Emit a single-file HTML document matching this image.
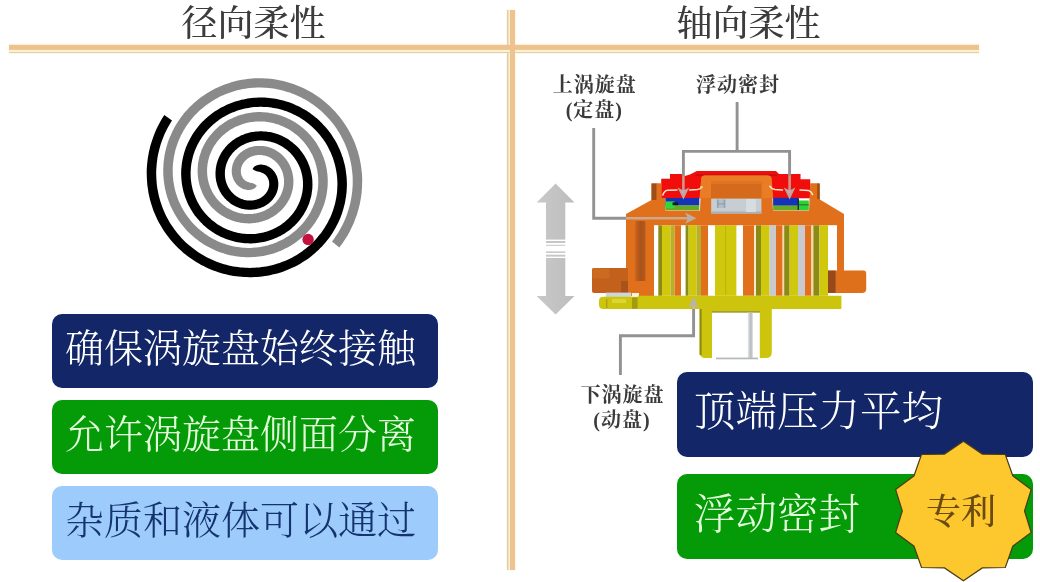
<!DOCTYPE html>
<html lang="zh-CN">
<head>
<meta charset="utf-8">
<title>径向柔性 轴向柔性</title>
<style>
html,body{margin:0;padding:0;background:#fff;}
body{width:1040px;height:582px;overflow:hidden;position:relative;font-family:"Liberation Serif","Noto Serif CJK SC",serif;}
#stage{position:absolute;left:0;top:0;width:1040px;height:582px;overflow:hidden;will-change:transform;}
#g{position:absolute;left:0;top:0;}
.t{position:absolute;white-space:nowrap;line-height:1;}
.title{font-size:36px;color:#3c3c3c;font-weight:500;top:5.5px;}
.lab{font-size:20px;letter-spacing:1px;padding-left:1px;font-weight:700;color:#3a3a3a;text-align:center;line-height:25px;}
.box{position:absolute;border-radius:10px;box-sizing:border-box;}
.box span{position:absolute;white-space:nowrap;line-height:1;font-weight:300;}
.l{left:52px;width:386px;height:74px;}
.l span{left:13px;top:14.5px;font-size:39px;}
.r{left:677px;width:356px;}
.r span{left:17px;font-size:41.5px;}
.navy{background:#122668;color:#fff;}
.green{background:#059a07;color:#e4ffdc;}
.sky{background:#9ccbfc;color:#15336f;}
</style>
</head>
<body>
<div id="stage">
<svg id="g" width="1040" height="582" viewBox="0 0 1040 582">
<defs>
<linearGradient id="ar" x1="0" x2="1" y1="0" y2="0"><stop offset="0" stop-color="#c9c9c9"/><stop offset="1" stop-color="#bdbdbd"/></linearGradient>
<linearGradient id="wallsh" x1="0" x2="1" y1="0" y2="0"><stop offset="0" stop-color="#c9641c"/><stop offset="0.55" stop-color="#a9521a"/><stop offset="1" stop-color="#b85a1a"/></linearGradient>
<linearGradient id="rod" x1="0" x2="1" y1="0" y2="0"><stop offset="0" stop-color="#e6e8ea"/><stop offset="0.6" stop-color="#b6babe"/><stop offset="1" stop-color="#d6d8da"/></linearGradient>
<filter id="soft" x="-5%" y="-5%" width="110%" height="110%"><feGaussianBlur stdDeviation="0.45"/></filter>
</defs>
<!-- rules -->
<rect x="506" y="9.5" width="10" height="561" fill="#fff8e2"/>
<rect x="8.5" y="43.6" width="971" height="10.4" fill="#fffbe8"/>
<rect x="508.4" y="10" width="1.8" height="560" fill="#fff1cb"/>
<rect x="507" y="10" width="1.5" height="560" fill="#d8d2b2"/>
<rect x="9" y="49.8" width="970" height="2.4" fill="#fff1cb"/>
<rect x="9" y="52" width="970" height="1.1" fill="#d8d4b5"/>
<rect x="510" y="10" width="5" height="560" fill="#efc391"/>
<rect x="9" y="44.8" width="970" height="5.1" fill="#eec18e"/>
<!-- spiral -->
<path d="M339.3 247.6 L341.0 245.3 L342.7 242.9 L344.3 240.6 L345.9 238.1 L347.4 235.7 L348.8 233.2 L350.1 230.7 L351.4 228.1 L352.6 225.5 L353.8 222.9 L354.8 220.3 L355.8 217.6 L356.8 215.0 L357.6 212.3 L358.4 209.5 L359.1 206.8 L359.8 204.1 L360.3 201.3 L360.8 198.5 L361.2 195.8 L361.6 193.0 L361.8 190.2 L362.0 187.4 L362.1 184.6 L362.2 181.8 L362.2 179.0 L362.1 176.3 L361.9 173.5 L361.6 170.7 L361.3 168.0 L360.9 165.3 L360.4 162.5 L359.9 159.8 L359.3 157.1 L358.6 154.5 L357.9 151.8 L357.0 149.2 L356.1 146.6 L355.2 144.0 L354.2 141.5 L353.1 139.0 L351.9 136.5 L350.7 134.1 L349.4 131.7 L348.1 129.3 L346.7 127.0 L345.2 124.7 L343.7 122.4 L342.1 120.2 L340.5 118.0 L338.8 115.9 L337.1 113.9 L335.3 111.8 L333.5 109.9 L331.6 107.9 L329.6 106.1 L327.6 104.2 L325.6 102.5 L323.5 100.8 L321.4 99.1 L319.3 97.5 L317.1 96.0 L314.8 94.5 L312.6 93.1 L310.3 91.7 L308.0 90.4 L305.6 89.2 L303.2 88.0 L300.8 86.9 L298.3 85.9 L295.9 84.9 L293.4 84.0 L290.9 83.2 L288.4 82.4 L285.8 81.7 L283.3 81.0 L280.7 80.4 L278.1 79.9 L275.5 79.5 L272.9 79.1 L270.3 78.8 L267.7 78.5 L265.1 78.4 L262.5 78.3 L259.9 78.2 L257.3 78.2 L254.7 78.3 L252.1 78.5 L249.5 78.7 L247.0 79.0 L244.4 79.4 L241.9 79.8 L239.3 80.3 L236.8 80.8 L234.3 81.4 L231.9 82.1 L229.4 82.9 L227.0 83.7 L224.6 84.5 L222.2 85.4 L219.9 86.4 L217.6 87.5 L215.3 88.6 L213.0 89.7 L210.8 90.9 L208.7 92.2 L206.5 93.5 L204.4 94.9 L202.4 96.3 L200.3 97.8 L198.4 99.3 L196.4 100.9 L194.5 102.5 L192.7 104.2 L190.9 105.9 L189.2 107.6 L187.5 109.4 L185.8 111.2 L184.2 113.1 L182.7 115.0 L181.2 117.0 L179.8 119.0 L178.4 121.0 L177.1 123.0 L175.8 125.1 L174.6 127.2 L173.5 129.3 L172.4 131.5 L171.4 133.7 L170.4 135.9 L169.5 138.1 L168.6 140.3 L167.8 142.6 L167.1 144.9 L166.4 147.2 L165.8 149.5 L165.3 151.8 L164.8 154.1 L164.4 156.4 L164.1 158.8 L163.8 161.1 L163.5 163.5 L163.4 165.8 L163.3 168.2 L163.2 170.5 L163.3 172.8 L163.3 175.2 L163.5 177.5 L163.7 179.8 L164.0 182.1 L164.3 184.4 L164.7 186.7 L165.1 189.0 L165.7 191.3 L166.2 193.5 L166.8 195.7 L167.5 197.9 L168.3 200.1 L169.1 202.3 L169.9 204.4 L170.8 206.5 L171.8 208.6 L172.8 210.6 L173.9 212.6 L175.0 214.6 L176.2 216.6 L177.4 218.5 L178.7 220.4 L180.0 222.2 L181.4 224.0 L182.8 225.8 L184.2 227.5 L185.7 229.2 L187.2 230.9 L188.8 232.5 L190.4 234.0 L192.1 235.6 L193.8 237.0 L195.5 238.5 L197.3 239.8 L199.1 241.2 L200.9 242.5 L202.8 243.7 L204.7 244.9 L206.6 246.0 L208.5 247.1 L210.5 248.1 L212.5 249.1 L214.5 250.0 L216.5 250.9 L218.6 251.7 L220.6 252.4 L222.7 253.1 L224.8 253.8 L226.9 254.4 L229.0 254.9 L231.2 255.4 L233.3 255.8 L235.5 256.2 L237.6 256.5 L239.8 256.8 L241.9 257.0 L244.1 257.1 L246.3 257.2 L248.4 257.2 L250.6 257.2 L252.7 257.1 L254.9 257.0 L257.0 256.8 L259.1 256.6 L261.2 256.3 L263.3 255.9 L265.4 255.5 L267.5 255.1 L269.6 254.5 L271.6 254.0 L273.6 253.4 L275.6 252.7 L277.6 252.0 L279.5 251.2 L281.5 250.4 L283.4 249.6 L285.2 248.6 L287.1 247.7 L288.9 246.7 L290.7 245.7 L292.5 244.6 L294.2 243.4 L295.9 242.3 L297.5 241.0 L299.2 239.8 L300.7 238.5 L302.3 237.2 L303.8 235.8 L305.3 234.4 L306.7 233.0 L308.1 231.5 L309.4 230.0 L310.7 228.4 L312.0 226.9 L313.2 225.3 L314.4 223.7 L315.5 222.0 L316.6 220.3 L317.6 218.6 L318.6 216.9 L319.5 215.2 L320.4 213.4 L321.2 211.6 L322.0 209.8 L322.7 208.0 L323.4 206.2 L324.1 204.3 L324.7 202.5 L325.2 200.6 L325.7 198.7 L326.1 196.8 L326.5 194.9 L326.8 193.0 L327.1 191.1 L327.3 189.2 L327.5 187.3 L327.7 185.4 L327.7 183.5 L327.8 181.6 L327.7 179.7 L327.7 177.8 L327.5 175.9 L327.4 174.0 L327.1 172.2 L326.9 170.3 L326.5 168.4 L326.2 166.6 L325.7 164.8 L325.3 163.0 L324.8 161.2 L324.2 159.4 L323.6 157.6 L322.9 155.9 L322.2 154.2 L321.5 152.5 L320.7 150.8 L319.9 149.2 L319.0 147.5 L318.1 145.9 L317.2 144.4 L316.2 142.8 L315.1 141.3 L314.1 139.8 L313.0 138.4 L311.8 137.0 L310.7 135.6 L309.4 134.2 L308.2 132.9 L306.9 131.6 L305.6 130.4 L304.3 129.2 L302.9 128.0 L301.5 126.9 L300.1 125.8 L298.7 124.7 L297.2 123.7 L295.7 122.7 L294.2 121.8 L292.7 120.9 L291.1 120.0 L289.5 119.2 L287.9 118.4 L286.3 117.7 L284.7 117.0 L283.1 116.4 L281.4 115.8 L279.7 115.2 L278.1 114.7 L276.4 114.3 L274.7 113.9 L273.0 113.5 L271.3 113.2 L269.6 112.9 L267.9 112.6 L266.2 112.4 L264.4 112.3 L262.7 112.2 L261.0 112.1 L259.3 112.1 L257.6 112.1 L255.9 112.2 L254.2 112.3 L252.5 112.5 L250.8 112.7 L249.2 112.9 L247.5 113.2 L245.9 113.6 L244.2 113.9 L242.6 114.4 L241.0 114.8 L239.4 115.3 L237.8 115.8 L236.3 116.4 L234.8 117.0 L233.2 117.7 L231.7 118.4 L230.3 119.1 L228.8 119.8 L227.4 120.6 L226.0 121.5 L224.6 122.3 L223.3 123.2 L222.0 124.2 L220.7 125.1 L219.4 126.1 L218.2 127.1 L217.0 128.2 L215.8 129.3 L214.7 130.4 L213.6 131.5 L212.5 132.7 L211.5 133.9 L210.5 135.1 L209.5 136.3 L208.6 137.5 L207.7 138.8 L206.8 140.1 L206.0 141.4 L205.2 142.8 L204.5 144.1 L203.7 145.5 L203.1 146.8 L202.4 148.2 L201.8 149.6 L201.3 151.0 L200.8 152.5 L200.3 153.9 L199.8 155.3 L199.4 156.8 L199.1 158.2 L198.8 159.7 L198.5 161.2 L198.2 162.6 L198.0 164.1 L197.9 165.6 L197.8 167.0 L197.7 168.5 L197.6 170.0 L197.6 171.5 L197.7 172.9 L197.7 174.4 L197.9 175.8 L198.0 177.3 L198.2 178.7 L198.4 180.1 L198.7 181.5 L199.0 182.9 L199.3 184.3 L199.7 185.7 L200.1 187.1 L200.6 188.4 L201.1 189.8 L201.6 191.1 L202.1 192.4 L202.7 193.7 L203.3 194.9 L204.0 196.2 L204.6 197.4 L205.3 198.6 L206.1 199.8 L206.9 201.0 L207.6 202.1 L208.5 203.2 L209.3 204.3 L210.2 205.4 L211.1 206.4 L212.0 207.4 L213.0 208.4 L214.0 209.3 L215.0 210.3 L216.0 211.2 L217.0 212.0 L218.1 212.9 L219.2 213.7 L220.3 214.5 L221.4 215.2 L222.5 215.9 L223.7 216.6 L224.8 217.3 L226.0 217.9 L227.2 218.5 L228.4 219.0 L229.6 219.5 L230.8 220.0 L232.1 220.5 L233.3 220.9 L234.5 221.3 L235.8 221.7 L237.1 222.0 L238.3 222.3 L239.6 222.5 L240.9 222.7 L242.1 222.9 L243.4 223.1 L244.7 223.2 L246.0 223.3 L247.2 223.3 L248.5 223.4 L249.8 223.4 L251.0 223.3 L252.3 223.2 L253.5 223.1 L254.8 223.0 L256.0 222.8 L257.2 222.6 L258.4 222.4 L259.6 222.1 L260.8 221.8 L262.0 221.5 L263.2 221.1 L264.3 220.7 L265.5 220.3 L266.6 219.9 L267.7 219.4 L268.8 218.9 L269.9 218.4 L270.9 217.8 L272.0 217.3 L273.0 216.7 L274.0 216.0 L275.0 215.4 L275.9 214.7 L276.9 214.0 L277.8 213.3 L278.7 212.6 L279.6 211.8 L280.4 211.0 L281.2 210.2 L282.0 209.4 L282.8 208.6 L283.6 207.7 L284.3 206.8 L285.0 206.0 L285.7 205.1 L286.3 204.1 L286.9 203.2 L287.5 202.3 L288.1 201.3 L288.6 200.4 L289.1 199.4 L289.6 198.4 L290.1 197.4 L290.5 196.4 L290.9 195.4 L291.2 194.4 L291.6 193.4 L291.9 192.3 L292.2 191.3 L292.4 190.3 L292.7 189.2 L292.9 188.2 L293.0 187.2 L293.2 186.1 L293.3 185.1 L293.3 184.0 L293.4 183.0 L293.4 182.0 L293.4 181.0 L293.4 179.9 L293.3 178.9 L293.3 177.9 L293.1 176.9 L293.0 175.9 L292.8 174.9 L292.6 173.9 L292.4 172.9 L292.2 172.0 L291.9 171.0 L291.6 170.0 L291.3 169.1 L291.0 168.2 L290.6 167.3 L290.2 166.4 L289.8 165.5 L289.4 164.6 L288.9 163.8 L288.5 162.9 L288.0 162.1 L287.4 161.3 L286.9 160.5 L286.4 159.7 L285.8 159.0 L285.2 158.2 L284.6 157.5 L284.0 156.8 L283.3 156.2 L282.7 155.5 L282.0 154.8 L281.3 154.2 L280.6 153.6 L279.9 153.1 L279.2 152.5 L278.4 152.0 L277.7 151.4 L276.9 151.0 L276.2 150.5 L275.4 150.0 L274.6 149.6 L273.8 149.2 L273.0 148.8 L272.2 148.5 L271.4 148.1 L270.5 147.8 L269.7 147.5 L268.9 147.3 L268.1 147.0 L267.2 146.8 L266.4 146.6 L265.6 146.4 L264.7 146.3 L263.9 146.2 L263.0 146.1 L262.2 146.0 L261.4 145.9 L260.5 145.9 L259.7 145.9 L258.9 145.9 L258.0 145.9 L257.2 145.9 L256.4 146.0 L255.6 146.1 L254.8 146.2 L254.0 146.3 L253.2 146.5 L252.4 146.7 L251.7 146.9 L250.9 147.1 L250.2 147.3 L249.4 147.6 L248.7 147.8 L248.0 148.1 L247.3 148.4 L246.6 148.7 L245.9 149.1 L245.2 149.4 L244.6 149.8 L243.9 150.2 L243.3 150.6 L242.7 151.0 L242.1 151.4 L241.5 151.9 L240.9 152.3 L240.3 152.8 L239.8 153.3 L239.3 153.8 L238.8 154.3 L238.3 154.8 L237.8 155.3 L237.4 155.9 L236.9 156.4 L236.5 157.0 L236.1 157.5 L235.7 158.1 L235.3 158.7 L235.0 159.2 L234.6 159.8 L234.3 160.4 L234.0 161.0 L233.8 161.6 L233.5 162.2 L233.3 162.9 L233.0 163.5 L232.8 164.1 L232.6 164.7 L232.5 165.3 L232.3 165.9 L232.2 166.6 L232.1 167.2 L232.0 167.8 L231.9 168.4 L231.8 169.0 L231.8 169.7 L231.8 170.3 L231.7 170.9 L231.7 171.5 L231.8 172.1 L231.8 172.7 L231.9 173.3 L231.9 173.9 L232.0 174.4 L232.1 175.0 L232.3 175.6 L232.4 176.1 L232.5 176.7 L232.7 177.3 L232.9 177.8 L233.1 178.3 L233.3 178.8 L233.5 179.4 L233.7 179.9 L234.0 180.4 L234.2 180.8 L234.5 181.3 L234.8 181.8 L235.1 182.2 L235.4 182.7 L235.7 183.1 L236.0 183.5 L236.3 183.9 L236.7 184.3 L237.0 184.7 L237.4 185.1 L237.7 185.4 L238.1 185.8 L238.5 186.1 L238.9 186.4 L239.3 186.7 L239.7 187.0 L240.1 187.3 L240.5 187.6 L240.9 187.8 L241.3 188.0 L241.7 188.3 L242.1 188.5 L242.6 188.7 L243.0 188.9 L243.4 189.0 L243.9 189.2 L244.3 189.3 L244.8 189.4 L245.2 189.5 L245.6 189.6 L246.1 189.7 L246.5 189.8 L246.9 189.9 L247.4 189.9 L247.8 189.9 L248.2 190.0 L248.6 190.0 L249.0 190.0 L249.5 189.9 L249.9 189.9 L250.3 189.9 L250.7 189.8 L251.1 189.7 L251.5 189.6 L251.9 189.5 L252.2 189.4 L252.6 189.2 L253.0 189.1 L253.3 188.9 L253.7 188.8 L254.0 188.6 L254.3 188.4 L254.6 188.2 L254.9 188.0 L255.2 187.7 L255.5 187.5 L255.8 187.2 L256.0 186.9 L256.2 186.6 L256.4 186.2 L256.6 185.8 L256.8 185.4 L256.8 185.4 L256.5 185.2 L256.2 185.1 L255.9 184.9 L255.6 184.7 L255.4 184.6 L255.1 184.4 L254.9 184.2 L254.7 184.0 L254.4 183.9 L254.2 183.9 L254.0 183.8 L253.8 183.7 L253.6 183.7 L253.5 183.6 L253.3 183.5 L253.1 183.4 L252.9 183.3 L252.7 183.2 L252.6 183.1 L252.4 183.0 L252.2 183.0 L252.0 183.0 L251.8 183.0 L251.6 183.0 L251.4 182.9 L251.2 182.9 L251.0 182.9 L250.8 182.9 L250.6 182.8 L250.4 182.8 L250.2 182.8 L250.0 182.7 L249.8 182.6 L249.6 182.6 L249.4 182.5 L249.2 182.4 L249.0 182.3 L248.8 182.3 L248.6 182.2 L248.4 182.1 L248.2 182.0 L247.9 181.9 L247.7 181.8 L247.4 181.8 L247.2 181.7 L246.9 181.6 L246.7 181.4 L246.5 181.3 L246.2 181.2 L246.0 181.1 L245.7 180.9 L245.5 180.8 L245.3 180.6 L245.0 180.4 L244.8 180.2 L244.6 180.0 L244.4 179.8 L244.2 179.6 L243.9 179.4 L243.7 179.2 L243.5 179.0 L243.3 178.7 L243.2 178.5 L243.0 178.2 L242.8 177.9 L242.6 177.7 L242.5 177.4 L242.3 177.1 L242.2 176.8 L242.0 176.5 L241.9 176.2 L241.7 175.9 L241.6 175.5 L241.5 175.2 L241.4 174.9 L241.3 174.5 L241.2 174.2 L241.1 173.8 L241.0 173.4 L241.0 173.1 L240.9 172.7 L240.9 172.3 L240.9 171.9 L240.8 171.6 L240.8 171.2 L240.8 170.8 L240.9 170.4 L240.9 170.0 L240.9 169.6 L241.0 169.2 L241.0 168.8 L241.1 168.4 L241.2 168.0 L241.3 167.5 L241.4 167.1 L241.6 166.7 L241.7 166.3 L241.9 165.9 L242.0 165.5 L242.2 165.1 L242.4 164.7 L242.6 164.3 L242.9 163.9 L243.1 163.5 L243.3 163.1 L243.6 162.7 L243.9 162.4 L244.2 162.0 L244.5 161.6 L244.8 161.3 L245.1 160.9 L245.4 160.6 L245.8 160.2 L246.2 159.9 L246.5 159.6 L246.9 159.2 L247.3 158.9 L247.7 158.6 L248.2 158.3 L248.6 158.0 L249.0 157.8 L249.5 157.5 L250.0 157.3 L250.4 157.0 L250.9 156.8 L251.4 156.6 L251.9 156.4 L252.4 156.2 L253.0 156.0 L253.5 155.9 L254.0 155.7 L254.6 155.6 L255.1 155.4 L255.7 155.3 L256.3 155.2 L256.8 155.2 L257.4 155.1 L258.0 155.1 L258.6 155.0 L259.2 155.0 L259.8 155.0 L260.4 155.0 L261.0 155.1 L261.6 155.1 L262.2 155.2 L262.8 155.3 L263.4 155.4 L264.0 155.5 L264.6 155.6 L265.2 155.8 L265.8 155.9 L266.4 156.1 L267.0 156.3 L267.7 156.6 L268.2 156.8 L268.8 157.1 L269.4 157.3 L270.0 157.6 L270.6 157.9 L271.2 158.3 L271.8 158.6 L272.3 159.0 L272.9 159.4 L273.4 159.8 L274.0 160.2 L274.5 160.6 L275.0 161.0 L275.5 161.5 L276.0 162.0 L276.5 162.5 L277.0 163.0 L277.5 163.5 L277.9 164.0 L278.4 164.6 L278.8 165.2 L279.2 165.8 L279.6 166.3 L280.0 167.0 L280.4 167.6 L280.7 168.2 L281.1 168.9 L281.4 169.5 L281.7 170.2 L282.0 170.9 L282.3 171.6 L282.5 172.3 L282.7 173.0 L283.0 173.7 L283.2 174.5 L283.3 175.2 L283.5 176.0 L283.6 176.7 L283.8 177.5 L283.9 178.3 L283.9 179.0 L284.0 179.8 L284.0 180.6 L284.0 181.4 L284.0 182.2 L284.0 183.0 L284.0 183.8 L283.9 184.6 L283.8 185.4 L283.7 186.2 L283.5 187.0 L283.4 187.8 L283.2 188.6 L283.0 189.4 L282.7 190.2 L282.5 191.0 L282.2 191.8 L281.9 192.6 L281.6 193.4 L281.2 194.2 L280.9 194.9 L280.5 195.7 L280.1 196.5 L279.6 197.2 L279.2 198.0 L278.7 198.7 L278.2 199.4 L277.7 200.1 L277.1 200.8 L276.6 201.5 L276.0 202.2 L275.4 202.9 L274.7 203.5 L274.1 204.1 L273.4 204.8 L272.7 205.4 L272.0 206.0 L271.3 206.5 L270.6 207.1 L269.8 207.6 L269.0 208.2 L268.2 208.7 L267.4 209.1 L266.6 209.6 L265.7 210.0 L264.9 210.5 L264.0 210.9 L263.1 211.2 L262.2 211.6 L261.3 211.9 L260.4 212.3 L259.5 212.5 L258.5 212.8 L257.6 213.0 L256.6 213.3 L255.6 213.5 L254.6 213.6 L253.6 213.8 L252.6 213.9 L251.6 214.0 L250.6 214.0 L249.6 214.1 L248.6 214.1 L247.5 214.1 L246.5 214.0 L245.5 214.0 L244.5 213.9 L243.4 213.7 L242.4 213.6 L241.4 213.4 L240.3 213.2 L239.3 213.0 L238.3 212.7 L237.3 212.4 L236.2 212.1 L235.2 211.7 L234.2 211.4 L233.2 211.0 L232.2 210.5 L231.3 210.1 L230.3 209.6 L229.3 209.1 L228.4 208.6 L227.4 208.0 L226.5 207.4 L225.6 206.8 L224.7 206.1 L223.8 205.5 L222.9 204.8 L222.1 204.1 L221.2 203.3 L220.4 202.6 L219.6 201.8 L218.8 201.0 L218.1 200.1 L217.3 199.3 L216.6 198.4 L215.9 197.5 L215.2 196.6 L214.6 195.6 L214.0 194.7 L213.3 193.7 L212.8 192.7 L212.2 191.7 L211.7 190.6 L211.2 189.6 L210.7 188.5 L210.2 187.4 L209.8 186.3 L209.4 185.2 L209.1 184.1 L208.7 182.9 L208.4 181.8 L208.2 180.6 L207.9 179.5 L207.7 178.3 L207.5 177.1 L207.4 175.9 L207.2 174.7 L207.2 173.5 L207.1 172.2 L207.1 171.0 L207.1 169.8 L207.1 168.6 L207.2 167.3 L207.3 166.1 L207.5 164.9 L207.6 163.6 L207.9 162.4 L208.1 161.2 L208.4 160.0 L208.7 158.7 L209.0 157.5 L209.4 156.3 L209.8 155.1 L210.3 153.9 L210.8 152.7 L211.3 151.6 L211.8 150.4 L212.4 149.2 L213.0 148.1 L213.6 147.0 L214.3 145.8 L215.0 144.7 L215.8 143.7 L216.5 142.6 L217.3 141.5 L218.2 140.5 L219.0 139.5 L219.9 138.5 L220.8 137.5 L221.8 136.6 L222.8 135.6 L223.8 134.7 L224.8 133.9 L225.8 133.0 L226.9 132.2 L228.0 131.4 L229.1 130.6 L230.3 129.8 L231.5 129.1 L232.7 128.4 L233.9 127.7 L235.1 127.1 L236.4 126.5 L237.7 125.9 L239.0 125.4 L240.3 124.9 L241.6 124.4 L243.0 124.0 L244.3 123.6 L245.7 123.2 L247.1 122.8 L248.5 122.5 L249.9 122.3 L251.3 122.0 L252.7 121.9 L254.2 121.7 L255.6 121.6 L257.1 121.5 L258.5 121.4 L260.0 121.4 L261.5 121.5 L262.9 121.5 L264.4 121.6 L265.9 121.8 L267.4 122.0 L268.8 122.2 L270.3 122.5 L271.8 122.8 L273.2 123.1 L274.7 123.5 L276.1 123.9 L277.5 124.3 L279.0 124.8 L280.4 125.4 L281.8 125.9 L283.2 126.5 L284.6 127.2 L285.9 127.9 L287.3 128.6 L288.6 129.3 L289.9 130.1 L291.2 131.0 L292.5 131.8 L293.8 132.7 L295.0 133.7 L296.2 134.6 L297.4 135.6 L298.6 136.6 L299.7 137.7 L300.8 138.8 L301.9 139.9 L303.0 141.1 L304.0 142.3 L305.0 143.5 L306.0 144.7 L306.9 146.0 L307.8 147.3 L308.7 148.6 L309.5 150.0 L310.3 151.4 L311.1 152.8 L311.9 154.2 L312.6 155.6 L313.2 157.1 L313.8 158.6 L314.4 160.1 L315.0 161.6 L315.5 163.2 L315.9 164.7 L316.4 166.3 L316.7 167.9 L317.1 169.5 L317.4 171.1 L317.6 172.7 L317.9 174.3 L318.0 176.0 L318.2 177.6 L318.2 179.3 L318.3 180.9 L318.3 182.6 L318.2 184.2 L318.1 185.9 L318.0 187.6 L317.8 189.2 L317.6 190.9 L317.3 192.6 L317.0 194.2 L316.6 195.9 L316.2 197.5 L315.8 199.2 L315.3 200.8 L314.7 202.4 L314.2 204.0 L313.5 205.6 L312.9 207.2 L312.1 208.8 L311.4 210.3 L310.6 211.9 L309.7 213.4 L308.8 214.9 L307.9 216.4 L306.9 217.8 L305.9 219.2 L304.9 220.7 L303.8 222.0 L302.7 223.4 L301.5 224.7 L300.3 226.0 L299.0 227.3 L297.8 228.6 L296.5 229.8 L295.1 231.0 L293.7 232.1 L292.3 233.2 L290.9 234.3 L289.4 235.4 L287.9 236.4 L286.3 237.3 L284.8 238.3 L283.2 239.2 L281.5 240.0 L279.9 240.8 L278.2 241.6 L276.5 242.4 L274.8 243.0 L273.1 243.7 L271.3 244.3 L269.5 244.8 L267.7 245.4 L265.9 245.8 L264.1 246.2 L262.3 246.6 L260.4 246.9 L258.5 247.2 L256.7 247.5 L254.8 247.6 L252.9 247.8 L251.0 247.9 L249.1 247.9 L247.2 247.9 L245.2 247.8 L243.3 247.7 L241.4 247.5 L239.5 247.3 L237.6 247.1 L235.7 246.8 L233.8 246.4 L231.9 246.0 L230.0 245.5 L228.1 245.0 L226.3 244.4 L224.4 243.8 L222.6 243.2 L220.7 242.5 L218.9 241.7 L217.1 240.9 L215.4 240.1 L213.6 239.2 L211.9 238.2 L210.2 237.2 L208.5 236.2 L206.8 235.1 L205.2 234.0 L203.6 232.8 L202.0 231.6 L200.4 230.3 L198.9 229.0 L197.4 227.7 L196.0 226.3 L194.6 224.9 L193.2 223.4 L191.8 221.9 L190.5 220.4 L189.3 218.8 L188.0 217.2 L186.8 215.6 L185.7 213.9 L184.6 212.2 L183.5 210.5 L182.5 208.7 L181.5 206.9 L180.6 205.1 L179.8 203.2 L178.9 201.4 L178.1 199.5 L177.4 197.6 L176.7 195.6 L176.1 193.6 L175.5 191.7 L175.0 189.7 L174.5 187.7 L174.1 185.6 L173.8 183.6 L173.4 181.5 L173.2 179.4 L173.0 177.4 L172.8 175.3 L172.8 173.2 L172.7 171.1 L172.7 169.0 L172.8 166.9 L172.9 164.8 L173.1 162.7 L173.4 160.6 L173.7 158.5 L174.0 156.4 L174.5 154.3 L174.9 152.2 L175.4 150.1 L176.0 148.1 L176.7 146.0 L177.4 144.0 L178.1 142.0 L178.9 140.0 L179.8 138.0 L180.7 136.0 L181.7 134.1 L182.7 132.2 L183.7 130.3 L184.9 128.4 L186.0 126.5 L187.3 124.7 L188.5 122.9 L189.9 121.2 L191.2 119.4 L192.7 117.7 L194.1 116.1 L195.6 114.5 L197.2 112.9 L198.8 111.3 L200.5 109.8 L202.1 108.4 L203.9 106.9 L205.7 105.5 L207.5 104.2 L209.3 102.9 L211.2 101.7 L213.1 100.5 L215.1 99.3 L217.1 98.2 L219.1 97.1 L221.1 96.1 L223.2 95.2 L225.3 94.3 L227.5 93.4 L229.6 92.7 L231.8 91.9 L234.0 91.2 L236.2 90.6 L238.5 90.0 L240.8 89.5 L243.0 89.1 L245.3 88.7 L247.6 88.3 L250.0 88.1 L252.3 87.8 L254.6 87.7 L257.0 87.6 L259.3 87.6 L261.7 87.6 L264.1 87.7 L266.4 87.8 L268.8 88.0 L271.1 88.3 L273.5 88.6 L275.8 89.0 L278.2 89.5 L280.5 90.0 L282.8 90.6 L285.1 91.2 L287.4 91.9 L289.7 92.6 L292.0 93.5 L294.2 94.3 L296.4 95.3 L298.6 96.2 L300.8 97.3 L303.0 98.4 L305.1 99.6 L307.2 100.8 L309.2 102.1 L311.3 103.4 L313.3 104.8 L315.2 106.2 L317.2 107.7 L319.0 109.2 L320.9 110.8 L322.7 112.5 L324.5 114.2 L326.2 115.9 L327.9 117.7 L329.5 119.5 L331.1 121.4 L332.7 123.3 L334.2 125.3 L335.6 127.3 L337.0 129.3 L338.3 131.4 L339.6 133.5 L340.9 135.7 L342.0 137.9 L343.1 140.1 L344.2 142.3 L345.2 144.6 L346.2 146.9 L347.0 149.3 L347.9 151.6 L348.6 154.0 L349.3 156.4 L349.9 158.8 L350.5 161.3 L351.0 163.7 L351.5 166.2 L351.8 168.7 L352.1 171.2 L352.4 173.7 L352.6 176.3 L352.7 178.8 L352.7 181.3 L352.7 183.9 L352.6 186.4 L352.4 189.0 L352.2 191.5 L351.9 194.1 L351.5 196.6 L351.1 199.1 L350.6 201.6 L350.0 204.2 L349.4 206.7 L348.7 209.1 L347.9 211.6 L347.1 214.1 L346.2 216.5 L345.2 218.9 L344.2 221.3 L343.1 223.7 L341.9 226.0 L340.7 228.3 L339.4 230.6 L338.0 232.9 L336.6 235.1 L335.1 237.3 L333.6 239.4 L332.0 241.5Z" fill="#8a8a8a"/>
<path d="M164.3 115.1 L162.7 117.5 L161.2 119.9 L159.8 122.4 L158.5 125.0 L157.2 127.5 L156.0 130.1 L154.9 132.7 L153.9 135.3 L152.9 138.0 L152.0 140.7 L151.1 143.4 L150.3 146.1 L149.7 148.8 L149.0 151.6 L148.5 154.3 L148.0 157.1 L147.6 159.8 L147.3 162.6 L147.0 165.4 L146.8 168.2 L146.7 171.0 L146.7 173.7 L146.8 176.5 L146.9 179.3 L147.1 182.1 L147.3 184.8 L147.7 187.5 L148.1 190.3 L148.5 193.0 L149.1 195.7 L149.7 198.4 L150.4 201.0 L151.2 203.7 L152.0 206.3 L152.9 208.9 L153.8 211.4 L154.9 214.0 L156.0 216.5 L157.1 218.9 L158.3 221.4 L159.6 223.8 L161.0 226.1 L162.4 228.4 L163.8 230.7 L165.4 233.0 L167.0 235.2 L168.6 237.3 L170.3 239.4 L172.0 241.5 L173.8 243.5 L175.7 245.5 L177.6 247.4 L179.5 249.3 L181.5 251.1 L183.5 252.9 L185.6 254.6 L187.7 256.2 L189.9 257.8 L192.1 259.3 L194.3 260.8 L196.6 262.2 L198.9 263.6 L201.2 264.9 L203.6 266.1 L205.9 267.3 L208.4 268.4 L210.8 269.4 L213.3 270.4 L215.8 271.3 L218.3 272.2 L220.8 272.9 L223.3 273.7 L225.9 274.3 L228.5 274.9 L231.1 275.4 L233.6 275.9 L236.2 276.3 L238.8 276.6 L241.5 276.8 L244.1 277.0 L246.7 277.1 L249.3 277.2 L251.9 277.2 L254.5 277.1 L257.1 276.9 L259.7 276.7 L262.2 276.4 L264.8 276.1 L267.4 275.7 L269.9 275.2 L272.4 274.6 L274.9 274.0 L277.4 273.4 L279.8 272.7 L282.3 271.9 L284.7 271.0 L287.1 270.1 L289.4 269.1 L291.7 268.1 L294.0 267.0 L296.3 265.9 L298.5 264.7 L300.7 263.4 L302.8 262.1 L304.9 260.8 L307.0 259.4 L309.1 257.9 L311.0 256.4 L313.0 254.8 L314.9 253.2 L316.7 251.6 L318.5 249.9 L320.3 248.1 L322.0 246.4 L323.7 244.5 L325.3 242.7 L326.8 240.8 L328.3 238.9 L329.8 236.9 L331.2 234.9 L332.5 232.9 L333.8 230.8 L335.0 228.7 L336.2 226.6 L337.3 224.4 L338.4 222.3 L339.4 220.1 L340.3 217.9 L341.2 215.6 L342.0 213.4 L342.7 211.1 L343.4 208.8 L344.0 206.5 L344.6 204.2 L345.1 201.9 L345.5 199.6 L345.9 197.2 L346.2 194.9 L346.5 192.6 L346.7 190.2 L346.8 187.9 L346.9 185.5 L346.9 183.2 L346.8 180.9 L346.7 178.5 L346.5 176.2 L346.2 173.9 L345.9 171.6 L345.6 169.3 L345.2 167.0 L344.7 164.8 L344.1 162.5 L343.5 160.3 L342.9 158.1 L342.1 155.9 L341.4 153.7 L340.5 151.6 L339.7 149.5 L338.7 147.4 L337.7 145.3 L336.7 143.3 L335.6 141.3 L334.4 139.3 L333.2 137.4 L332.0 135.5 L330.7 133.6 L329.3 131.8 L328.0 130.0 L326.5 128.3 L325.0 126.5 L323.5 124.9 L322.0 123.2 L320.4 121.7 L318.7 120.1 L317.1 118.6 L315.3 117.2 L313.6 115.8 L311.8 114.4 L310.0 113.1 L308.1 111.8 L306.3 110.6 L304.4 109.5 L302.4 108.4 L300.5 107.3 L298.5 106.3 L296.5 105.4 L294.5 104.5 L292.4 103.6 L290.4 102.8 L288.3 102.1 L286.2 101.4 L284.1 100.8 L282.0 100.2 L279.8 99.7 L277.7 99.2 L275.6 98.8 L273.4 98.5 L271.2 98.2 L269.1 97.9 L266.9 97.8 L264.7 97.6 L262.6 97.6 L260.4 97.5 L258.3 97.6 L256.1 97.7 L254.0 97.8 L251.8 98.0 L249.7 98.3 L247.6 98.6 L245.5 99.0 L243.4 99.4 L241.3 99.8 L239.3 100.4 L237.2 100.9 L235.2 101.6 L233.2 102.2 L231.2 103.0 L229.3 103.7 L227.3 104.6 L225.4 105.4 L223.6 106.4 L221.7 107.3 L219.9 108.3 L218.1 109.4 L216.4 110.5 L214.6 111.6 L212.9 112.8 L211.3 114.0 L209.7 115.3 L208.1 116.6 L206.5 117.9 L205.0 119.3 L203.6 120.7 L202.1 122.1 L200.8 123.6 L199.4 125.1 L198.1 126.7 L196.9 128.2 L195.7 129.8 L194.5 131.5 L193.4 133.1 L192.3 134.8 L191.3 136.5 L190.3 138.2 L189.4 140.0 L188.5 141.7 L187.6 143.5 L186.9 145.3 L186.1 147.1 L185.4 149.0 L184.8 150.8 L184.2 152.7 L183.7 154.6 L183.2 156.4 L182.8 158.3 L182.4 160.2 L182.1 162.1 L181.8 164.0 L181.6 165.9 L181.4 167.8 L181.2 169.7 L181.2 171.6 L181.1 173.6 L181.2 175.5 L181.3 177.4 L181.4 179.2 L181.6 181.1 L181.8 183.0 L182.1 184.9 L182.4 186.7 L182.8 188.6 L183.2 190.4 L183.6 192.2 L184.2 194.0 L184.7 195.8 L185.3 197.5 L186.0 199.3 L186.7 201.0 L187.4 202.7 L188.2 204.4 L189.0 206.0 L189.9 207.6 L190.8 209.2 L191.8 210.8 L192.8 212.4 L193.8 213.9 L194.8 215.4 L196.0 216.8 L197.1 218.2 L198.3 219.6 L199.5 221.0 L200.7 222.3 L202.0 223.6 L203.3 224.9 L204.6 226.1 L206.0 227.3 L207.4 228.4 L208.8 229.5 L210.3 230.6 L211.7 231.6 L213.2 232.6 L214.7 233.5 L216.3 234.4 L217.8 235.3 L219.4 236.1 L221.0 236.9 L222.6 237.6 L224.3 238.3 L225.9 238.9 L227.6 239.6 L229.2 240.1 L230.9 240.6 L232.6 241.1 L234.3 241.5 L236.0 241.9 L237.7 242.3 L239.4 242.5 L241.1 242.8 L242.9 243.0 L244.6 243.2 L246.3 243.3 L248.0 243.3 L249.7 243.4 L251.5 243.4 L253.2 243.3 L254.9 243.2 L256.6 243.0 L258.3 242.8 L259.9 242.6 L261.6 242.3 L263.3 242.0 L264.9 241.7 L266.5 241.3 L268.2 240.8 L269.8 240.3 L271.3 239.8 L272.9 239.2 L274.5 238.6 L276.0 238.0 L277.5 237.3 L279.0 236.6 L280.4 235.9 L281.9 235.1 L283.3 234.3 L284.7 233.4 L286.0 232.5 L287.4 231.6 L288.7 230.7 L290.0 229.7 L291.2 228.7 L292.4 227.6 L293.6 226.5 L294.8 225.4 L295.9 224.3 L297.0 223.2 L298.0 222.0 L299.1 220.8 L300.1 219.6 L301.0 218.3 L301.9 217.1 L302.8 215.8 L303.7 214.5 L304.5 213.1 L305.2 211.8 L306.0 210.5 L306.7 209.1 L307.3 207.7 L307.9 206.3 L308.5 204.9 L309.1 203.5 L309.6 202.0 L310.0 200.6 L310.4 199.1 L310.8 197.7 L311.2 196.2 L311.5 194.8 L311.7 193.3 L311.9 191.8 L312.1 190.3 L312.3 188.9 L312.4 187.4 L312.4 185.9 L312.5 184.4 L312.4 183.0 L312.4 181.5 L312.3 180.1 L312.2 178.6 L312.0 177.2 L311.8 175.7 L311.5 174.3 L311.3 172.9 L310.9 171.5 L310.6 170.1 L310.2 168.7 L309.8 167.4 L309.3 166.0 L308.8 164.7 L308.3 163.4 L307.7 162.1 L307.1 160.8 L306.5 159.5 L305.8 158.3 L305.1 157.0 L304.4 155.8 L303.7 154.7 L302.9 153.5 L302.1 152.4 L301.2 151.3 L300.4 150.2 L299.5 149.1 L298.6 148.1 L297.6 147.1 L296.6 146.1 L295.7 145.2 L294.6 144.2 L293.6 143.4 L292.6 142.5 L291.5 141.7 L290.4 140.9 L289.3 140.1 L288.2 139.3 L287.0 138.6 L285.9 137.9 L284.7 137.3 L283.5 136.7 L282.3 136.1 L281.1 135.6 L279.9 135.0 L278.6 134.5 L277.4 134.1 L276.1 133.7 L274.9 133.3 L273.6 132.9 L272.3 132.6 L271.1 132.3 L269.8 132.1 L268.5 131.9 L267.2 131.7 L265.9 131.5 L264.7 131.4 L263.4 131.4 L262.1 131.3 L260.8 131.3 L259.5 131.3 L258.3 131.4 L257.0 131.4 L255.8 131.6 L254.5 131.7 L253.3 131.9 L252.0 132.1 L250.8 132.3 L249.6 132.6 L248.4 132.9 L247.2 133.2 L246.0 133.6 L244.9 134.0 L243.7 134.4 L242.6 134.9 L241.5 135.3 L240.4 135.8 L239.3 136.4 L238.2 136.9 L237.2 137.5 L236.1 138.1 L235.1 138.7 L234.1 139.4 L233.2 140.1 L232.2 140.8 L231.3 141.5 L230.4 142.2 L229.5 143.0 L228.7 143.8 L227.8 144.6 L227.0 145.4 L226.3 146.2 L225.5 147.1 L224.8 148.0 L224.1 148.9 L223.4 149.8 L222.7 150.7 L222.1 151.6 L221.5 152.6 L220.9 153.5 L220.4 154.5 L219.9 155.5 L219.4 156.5 L218.9 157.5 L218.5 158.5 L218.1 159.5 L217.7 160.5 L217.4 161.5 L217.1 162.5 L216.8 163.6 L216.5 164.6 L216.3 165.7 L216.1 166.7 L215.9 167.8 L215.8 168.8 L215.7 169.8 L215.6 170.9 L215.5 171.9 L215.5 173.0 L215.5 174.0 L215.5 175.0 L215.6 176.1 L215.6 177.1 L215.7 178.1 L215.9 179.1 L216.0 180.1 L216.2 181.1 L216.4 182.1 L216.7 183.1 L217.0 184.1 L217.2 185.0 L217.6 186.0 L217.9 186.9 L218.3 187.8 L218.6 188.7 L219.1 189.6 L219.5 190.5 L219.9 191.4 L220.4 192.2 L220.9 193.0 L221.4 193.9 L222.0 194.7 L222.5 195.4 L223.1 196.2 L223.7 197.0 L224.3 197.7 L224.9 198.4 L225.6 199.1 L226.2 199.8 L226.9 200.4 L227.6 201.0 L228.3 201.6 L229.0 202.2 L229.7 202.8 L230.5 203.4 L231.2 203.9 L232.0 204.4 L232.8 204.9 L233.5 205.3 L234.3 205.8 L235.1 206.2 L235.9 206.6 L236.8 206.9 L237.6 207.3 L238.4 207.6 L239.2 207.9 L240.1 208.2 L240.9 208.4 L241.8 208.7 L242.6 208.9 L243.5 209.1 L244.3 209.2 L245.2 209.4 L246.0 209.5 L246.9 209.6 L247.7 209.7 L248.6 209.7 L249.4 209.7 L250.2 209.7 L251.1 209.7 L251.9 209.7 L252.7 209.6 L253.6 209.5 L254.4 209.4 L255.2 209.3 L256.0 209.2 L256.8 209.0 L257.6 208.8 L258.3 208.6 L259.1 208.4 L259.9 208.1 L260.6 207.9 L261.3 207.6 L262.1 207.3 L262.8 207.0 L263.5 206.7 L264.2 206.3 L264.9 205.9 L265.5 205.6 L266.2 205.2 L266.8 204.7 L267.4 204.3 L268.0 203.9 L268.6 203.4 L269.2 203.0 L269.7 202.5 L270.3 202.0 L270.8 201.5 L271.3 201.0 L271.8 200.4 L272.3 199.9 L272.7 199.4 L273.2 198.8 L273.6 198.2 L274.0 197.7 L274.4 197.1 L274.8 196.5 L275.1 195.9 L275.5 195.3 L275.8 194.7 L276.1 194.1 L276.4 193.5 L276.6 192.9 L276.9 192.3 L277.1 191.6 L277.3 191.0 L277.5 190.4 L277.6 189.7 L277.8 189.1 L277.9 188.5 L278.0 187.9 L278.1 187.2 L278.2 186.6 L278.3 186.0 L278.3 185.4 L278.3 184.7 L278.3 184.1 L278.3 183.5 L278.3 182.9 L278.3 182.3 L278.2 181.7 L278.1 181.1 L278.0 180.5 L277.9 179.9 L277.8 179.3 L277.7 178.8 L277.5 178.2 L277.3 177.6 L277.2 177.1 L277.0 176.6 L276.8 176.0 L276.5 175.5 L276.3 175.0 L276.0 174.5 L275.8 174.0 L275.5 173.5 L275.2 173.0 L274.9 172.6 L274.6 172.1 L274.3 171.7 L274.0 171.3 L273.6 170.9 L273.3 170.5 L272.9 170.1 L272.6 169.7 L272.2 169.3 L271.8 169.0 L271.4 168.6 L271.0 168.3 L270.6 168.0 L270.2 167.7 L269.8 167.4 L269.4 167.1 L269.0 166.9 L268.5 166.6 L268.1 166.4 L267.7 166.2 L267.2 166.0 L266.8 165.8 L266.4 165.6 L265.9 165.5 L265.5 165.3 L265.0 165.2 L264.6 165.1 L264.1 165.0 L263.7 164.9 L263.2 164.8 L262.8 164.8 L262.3 164.7 L261.9 164.7 L261.5 164.6 L261.0 164.6 L260.6 164.6 L260.2 164.6 L259.8 164.7 L259.3 164.7 L258.9 164.7 L258.5 164.8 L258.1 164.9 L257.7 165.1 L257.3 165.2 L256.9 165.3 L256.6 165.5 L256.2 165.6 L255.8 165.8 L255.5 166.0 L255.1 166.1 L254.8 166.3 L254.5 166.5 L254.2 166.8 L253.9 167.1 L253.6 167.4 L253.4 167.7 L253.1 168.0 L252.9 168.4 L252.7 168.8 L252.6 169.2 L252.6 169.2 L252.9 169.3 L253.2 169.5 L253.5 169.7 L253.8 169.8 L254.0 170.0 L254.3 170.2 L254.5 170.3 L254.8 170.5 L255.0 170.6 L255.2 170.7 L255.5 170.7 L255.7 170.8 L255.9 170.9 L256.1 171.0 L256.3 171.1 L256.5 171.1 L256.7 171.2 L256.9 171.4 L257.0 171.5 L257.2 171.6 L257.4 171.6 L257.6 171.6 L257.8 171.6 L258.1 171.6 L258.3 171.6 L258.5 171.6 L258.7 171.7 L258.9 171.7 L259.1 171.8 L259.3 171.8 L259.6 171.9 L259.8 171.9 L260.0 172.0 L260.2 172.1 L260.4 172.1 L260.6 172.2 L260.8 172.3 L261.1 172.4 L261.3 172.5 L261.5 172.6 L261.7 172.7 L262.0 172.8 L262.2 172.9 L262.5 173.0 L262.7 173.1 L263.0 173.2 L263.2 173.3 L263.5 173.4 L263.7 173.6 L264.0 173.7 L264.2 173.9 L264.5 174.0 L264.7 174.2 L264.9 174.4 L265.2 174.6 L265.4 174.8 L265.6 175.0 L265.9 175.2 L266.1 175.5 L266.3 175.7 L266.5 175.9 L266.7 176.2 L266.9 176.4 L267.1 176.7 L267.2 177.0 L267.4 177.3 L267.6 177.6 L267.7 177.9 L267.9 178.2 L268.0 178.5 L268.2 178.8 L268.3 179.1 L268.4 179.5 L268.6 179.8 L268.7 180.2 L268.8 180.5 L268.9 180.9 L269.0 181.3 L269.0 181.6 L269.1 182.0 L269.1 182.4 L269.2 182.8 L269.2 183.2 L269.2 183.6 L269.2 184.0 L269.2 184.4 L269.2 184.8 L269.2 185.2 L269.1 185.6 L269.1 186.0 L269.0 186.4 L268.9 186.8 L268.8 187.3 L268.7 187.7 L268.6 188.1 L268.5 188.5 L268.3 188.9 L268.2 189.3 L268.0 189.8 L267.8 190.2 L267.6 190.6 L267.4 191.0 L267.2 191.4 L266.9 191.8 L266.7 192.2 L266.4 192.6 L266.1 193.0 L265.8 193.4 L265.5 193.7 L265.2 194.1 L264.9 194.5 L264.5 194.8 L264.2 195.2 L263.8 195.5 L263.4 195.9 L263.0 196.2 L262.6 196.5 L262.2 196.8 L261.8 197.1 L261.3 197.4 L260.9 197.7 L260.4 198.0 L259.9 198.2 L259.5 198.5 L259.0 198.7 L258.5 198.9 L257.9 199.1 L257.4 199.3 L256.9 199.5 L256.4 199.7 L255.8 199.8 L255.3 200.0 L254.7 200.1 L254.1 200.2 L253.5 200.3 L253.0 200.4 L252.4 200.5 L251.8 200.5 L251.2 200.6 L250.6 200.6 L250.0 200.6 L249.4 200.6 L248.8 200.6 L248.1 200.5 L247.5 200.5 L246.9 200.4 L246.3 200.3 L245.7 200.2 L245.0 200.0 L244.4 199.9 L243.8 199.7 L243.2 199.5 L242.6 199.3 L242.0 199.1 L241.3 198.9 L240.7 198.6 L240.1 198.4 L239.5 198.1 L238.9 197.8 L238.3 197.5 L237.8 197.1 L237.2 196.8 L236.6 196.4 L236.1 196.0 L235.5 195.6 L235.0 195.2 L234.4 194.7 L233.9 194.3 L233.4 193.8 L232.9 193.3 L232.4 192.8 L231.9 192.3 L231.4 191.7 L231.0 191.2 L230.5 190.6 L230.1 190.0 L229.7 189.4 L229.3 188.8 L228.9 188.2 L228.5 187.6 L228.1 186.9 L227.8 186.3 L227.5 185.6 L227.2 184.9 L226.9 184.2 L226.6 183.5 L226.4 182.8 L226.1 182.1 L225.9 181.3 L225.7 180.6 L225.5 179.8 L225.4 179.1 L225.2 178.3 L225.1 177.5 L225.0 176.7 L225.0 176.0 L224.9 175.2 L224.9 174.4 L224.9 173.6 L224.9 172.8 L224.9 172.0 L225.0 171.1 L225.0 170.3 L225.1 169.5 L225.3 168.7 L225.4 167.9 L225.6 167.1 L225.8 166.3 L226.0 165.5 L226.2 164.6 L226.5 163.8 L226.8 163.0 L227.1 162.2 L227.4 161.5 L227.8 160.7 L228.1 159.9 L228.5 159.1 L229.0 158.3 L229.4 157.6 L229.9 156.8 L230.3 156.1 L230.9 155.4 L231.4 154.7 L231.9 154.0 L232.5 153.3 L233.1 152.6 L233.7 151.9 L234.4 151.2 L235.0 150.6 L235.7 150.0 L236.4 149.4 L237.1 148.8 L237.8 148.2 L238.6 147.6 L239.4 147.1 L240.1 146.6 L240.9 146.1 L241.8 145.6 L242.6 145.1 L243.5 144.7 L244.3 144.2 L245.2 143.8 L246.1 143.4 L247.0 143.1 L247.9 142.7 L248.9 142.4 L249.8 142.1 L250.8 141.9 L251.7 141.6 L252.7 141.4 L253.7 141.2 L254.7 141.0 L255.7 140.9 L256.7 140.8 L257.7 140.7 L258.7 140.6 L259.8 140.6 L260.8 140.5 L261.8 140.6 L262.9 140.6 L263.9 140.7 L265.0 140.8 L266.0 140.9 L267.0 141.0 L268.1 141.2 L269.1 141.4 L270.2 141.6 L271.2 141.9 L272.2 142.2 L273.3 142.5 L274.3 142.8 L275.3 143.2 L276.3 143.6 L277.3 144.0 L278.3 144.5 L279.3 145.0 L280.2 145.5 L281.2 146.0 L282.2 146.6 L283.1 147.2 L284.0 147.8 L284.9 148.4 L285.8 149.1 L286.7 149.8 L287.6 150.5 L288.4 151.2 L289.3 152.0 L290.1 152.8 L290.9 153.6 L291.6 154.4 L292.4 155.3 L293.1 156.2 L293.8 157.1 L294.5 158.0 L295.2 158.9 L295.8 159.9 L296.5 160.9 L297.1 161.9 L297.6 162.9 L298.2 163.9 L298.7 165.0 L299.2 166.0 L299.6 167.1 L300.1 168.2 L300.5 169.3 L300.9 170.5 L301.2 171.6 L301.5 172.7 L301.8 173.9 L302.1 175.1 L302.3 176.3 L302.5 177.5 L302.7 178.7 L302.8 179.9 L302.9 181.1 L303.0 182.3 L303.0 183.5 L303.0 184.8 L303.0 186.0 L302.9 187.2 L302.8 188.5 L302.7 189.7 L302.5 190.9 L302.3 192.2 L302.1 193.4 L301.8 194.6 L301.5 195.9 L301.2 197.1 L300.8 198.3 L300.4 199.5 L300.0 200.7 L299.5 201.9 L299.0 203.1 L298.5 204.3 L297.9 205.4 L297.3 206.6 L296.7 207.7 L296.1 208.9 L295.4 210.0 L294.6 211.1 L293.9 212.2 L293.1 213.2 L292.3 214.3 L291.4 215.3 L290.5 216.3 L289.6 217.3 L288.7 218.3 L287.7 219.2 L286.7 220.1 L285.7 221.0 L284.7 221.9 L283.6 222.8 L282.5 223.6 L281.4 224.4 L280.2 225.2 L279.1 225.9 L277.9 226.6 L276.7 227.3 L275.4 228.0 L274.2 228.6 L272.9 229.2 L271.6 229.7 L270.3 230.3 L269.0 230.8 L267.6 231.2 L266.3 231.7 L264.9 232.1 L263.5 232.4 L262.1 232.8 L260.7 233.1 L259.3 233.3 L257.8 233.5 L256.4 233.7 L255.0 233.9 L253.5 234.0 L252.0 234.0 L250.6 234.1 L249.1 234.1 L247.6 234.0 L246.1 234.0 L244.7 233.8 L243.2 233.7 L241.7 233.5 L240.2 233.3 L238.7 233.0 L237.3 232.7 L235.8 232.3 L234.4 231.9 L232.9 231.5 L231.5 231.0 L230.0 230.5 L228.6 230.0 L227.2 229.4 L225.8 228.8 L224.4 228.2 L223.0 227.5 L221.7 226.7 L220.4 226.0 L219.0 225.2 L217.7 224.4 L216.4 223.5 L215.2 222.6 L213.9 221.6 L212.7 220.7 L211.5 219.7 L210.4 218.6 L209.2 217.5 L208.1 216.4 L207.0 215.3 L206.0 214.2 L204.9 213.0 L203.9 211.7 L202.9 210.5 L202.0 209.2 L201.1 207.9 L200.2 206.6 L199.4 205.2 L198.6 203.8 L197.8 202.4 L197.1 201.0 L196.4 199.6 L195.7 198.1 L195.1 196.6 L194.5 195.1 L193.9 193.6 L193.4 192.0 L193.0 190.5 L192.5 188.9 L192.2 187.3 L191.8 185.7 L191.5 184.1 L191.3 182.5 L191.0 180.8 L190.9 179.2 L190.7 177.6 L190.7 175.9 L190.6 174.2 L190.6 172.6 L190.7 170.9 L190.8 169.2 L190.9 167.6 L191.1 165.9 L191.3 164.2 L191.6 162.6 L191.9 160.9 L192.3 159.2 L192.7 157.6 L193.1 156.0 L193.6 154.3 L194.2 152.7 L194.7 151.1 L195.4 149.5 L196.0 147.9 L196.8 146.3 L197.5 144.8 L198.3 143.2 L199.2 141.7 L200.0 140.2 L201.0 138.7 L201.9 137.3 L202.9 135.8 L204.0 134.4 L205.1 133.0 L206.2 131.7 L207.4 130.3 L208.6 129.0 L209.8 127.7 L211.1 126.5 L212.4 125.3 L213.8 124.1 L215.1 122.9 L216.6 121.8 L218.0 120.7 L219.5 119.6 L221.0 118.6 L222.5 117.6 L224.1 116.7 L225.7 115.8 L227.3 114.9 L229.0 114.1 L230.6 113.3 L232.3 112.6 L234.1 111.9 L235.8 111.2 L237.6 110.6 L239.3 110.0 L241.1 109.5 L243.0 109.0 L244.8 108.6 L246.6 108.2 L248.5 107.9 L250.4 107.6 L252.2 107.3 L254.1 107.1 L256.0 107.0 L257.9 106.9 L259.8 106.8 L261.8 106.8 L263.7 106.9 L265.6 107.0 L267.5 107.1 L269.4 107.3 L271.4 107.6 L273.3 107.9 L275.2 108.2 L277.1 108.6 L279.0 109.1 L280.9 109.5 L282.7 110.1 L284.6 110.7 L286.5 111.3 L288.3 112.0 L290.1 112.7 L291.9 113.5 L293.7 114.4 L295.5 115.2 L297.2 116.2 L299.0 117.1 L300.7 118.2 L302.3 119.2 L304.0 120.3 L305.6 121.5 L307.2 122.7 L308.8 123.9 L310.3 125.2 L311.8 126.5 L313.3 127.9 L314.7 129.3 L316.1 130.7 L317.5 132.2 L318.8 133.7 L320.1 135.3 L321.4 136.9 L322.6 138.5 L323.8 140.2 L324.9 141.8 L326.0 143.6 L327.0 145.3 L328.0 147.1 L328.9 148.9 L329.8 150.7 L330.7 152.6 L331.5 154.5 L332.3 156.4 L333.0 158.3 L333.6 160.3 L334.2 162.2 L334.8 164.2 L335.3 166.2 L335.7 168.3 L336.1 170.3 L336.5 172.4 L336.8 174.4 L337.0 176.5 L337.2 178.6 L337.3 180.7 L337.4 182.7 L337.4 184.8 L337.3 186.9 L337.2 189.1 L337.1 191.2 L336.9 193.3 L336.6 195.4 L336.3 197.5 L335.9 199.5 L335.5 201.6 L335.0 203.7 L334.4 205.8 L333.8 207.8 L333.2 209.9 L332.4 211.9 L331.7 213.9 L330.9 215.9 L330.0 217.9 L329.0 219.8 L328.1 221.8 L327.0 223.7 L325.9 225.6 L324.8 227.4 L323.6 229.3 L322.4 231.1 L321.1 232.9 L319.7 234.6 L318.3 236.3 L316.9 238.0 L315.4 239.7 L313.9 241.3 L312.3 242.9 L310.7 244.4 L309.0 245.9 L307.3 247.3 L305.6 248.8 L303.8 250.1 L302.0 251.5 L300.1 252.7 L298.2 254.0 L296.3 255.2 L294.3 256.3 L292.3 257.4 L290.3 258.5 L288.2 259.4 L286.1 260.4 L284.0 261.3 L281.8 262.1 L279.7 262.9 L277.5 263.6 L275.3 264.3 L273.0 264.9 L270.8 265.5 L268.5 266.0 L266.2 266.4 L263.9 266.8 L261.6 267.1 L259.3 267.4 L256.9 267.6 L254.6 267.7 L252.2 267.8 L249.9 267.9 L247.5 267.8 L245.1 267.7 L242.8 267.6 L240.4 267.4 L238.0 267.1 L235.7 266.8 L233.3 266.4 L231.0 265.9 L228.7 265.4 L226.3 264.8 L224.0 264.2 L221.7 263.5 L219.5 262.7 L217.2 261.9 L214.9 261.0 L212.7 260.1 L210.5 259.1 L208.3 258.0 L206.2 256.9 L204.1 255.8 L202.0 254.6 L199.9 253.3 L197.9 252.0 L195.9 250.6 L193.9 249.1 L192.0 247.6 L190.1 246.1 L188.2 244.5 L186.4 242.9 L184.6 241.2 L182.9 239.5 L181.2 237.7 L179.6 235.8 L178.0 234.0 L176.4 232.1 L174.9 230.1 L173.5 228.1 L172.1 226.1 L170.7 224.0 L169.4 221.9 L168.2 219.7 L167.0 217.6 L165.9 215.4 L164.8 213.1 L163.8 210.8 L162.9 208.5 L162.0 206.2 L161.2 203.8 L160.4 201.5 L159.7 199.1 L159.0 196.6 L158.5 194.2 L158.0 191.7 L157.5 189.3 L157.1 186.8 L156.8 184.3 L156.6 181.8 L156.4 179.3 L156.3 176.7 L156.2 174.2 L156.2 171.7 L156.3 169.1 L156.5 166.6 L156.7 164.0 L157.0 161.5 L157.3 159.0 L157.7 156.4 L158.2 153.9 L158.8 151.4 L159.4 148.9 L160.1 146.4 L160.8 144.0 L161.7 141.5 L162.6 139.1 L163.5 136.7 L164.5 134.3 L165.6 131.9 L166.8 129.6 L168.0 127.2 L169.3 125.0 L170.6 122.7 L172.0 120.5Z" fill="#000"/>
<circle cx="308.1" cy="239.5" r="5.7" fill="#c4123f"/>
<!-- double arrow -->
<path d="M555.6 183.5 L574.5 202.5 L565.3 202.5 L565.3 296 L574.5 296 L555.6 314.5 L536.6 296 L546 296 L546 202.5 L536.6 202.5Z" fill="url(#ar)"/>
<g fill="#fff"><rect x="545" y="239.6" width="21" height="18.4"/></g>
<g fill="#c6c6c6"><rect x="546" y="241" width="19.3" height="2"/><rect x="546" y="244.8" width="19.3" height="1"/><rect x="546" y="251.4" width="19.3" height="1.5"/><rect x="546" y="254.7" width="19.3" height="1.9"/></g>
<!-- compressor -->
<g filter="url(#soft)">
<g id="comp">
<!-- red cap -->
<path d="M661.2 198.2 L661.2 178.8 L670 178.8 L670 174 L681.5 174 L684 176.2 L690 174.6 L696.8 171 L776 171 L779 174 L800.5 174 L800.5 179.2 L810.2 179.2 L810.2 198.2Z" fill="#f20d0d"/>
<path d="M696 174.2 L776.5 174.2 L777.5 176 L695 176Z" fill="#c80f0c"/>
<!-- orange body -->
<path d="M626 296 L626 214 L651.5 200 L651.5 183.2 L661.2 183.2 L661.2 198 L665.5 198 L665.5 210.4 L700 210.4 L701.2 178.5 Q701.4 175.4 705 175.4 L767.5 175.4 Q771.2 175.4 771.6 178.5 L773 210.4 L809 210.4 L810.2 183.2 L819.6 183.2 L819.8 199.5 L844 214 L844 271 L837 271 L837 225.4 L654 225.4 L654 296Z" fill="#e0701c"/>
<path d="M699.5 198 L701.2 178.5 Q701.4 175.4 705 175.4 L767.5 175.4 Q771.2 175.4 771.6 178.5 L773.2 198Z" fill="#ea7b26"/>
<rect x="635.2" y="221" width="10.2" height="60" fill="url(#wallsh)"/>
<rect x="651.5" y="183.6" width="5" height="16.4" fill="#a14d18"/>
<rect x="817.2" y="183.6" width="2.5" height="15.6" fill="#a14d18"/>
<rect x="711" y="181" width="50.6" height="17.8" fill="#d56a1b"/>
<rect x="711" y="181" width="50.6" height="3" fill="#dd7424"/>
<!-- seals -->
<rect x="665.5" y="198" width="33.8" height="7.6" fill="#1432b6"/>
<rect x="665.5" y="205.4" width="33.8" height="4.8" fill="#66aa22"/>
<rect x="665.5" y="201.4" width="9" height="6.8" fill="#33d63c"/>
<rect x="672.6" y="202.4" width="5.6" height="2.8" fill="#0a1a20"/>
<rect x="773.1" y="197.8" width="25" height="8" fill="#1432b6"/>
<rect x="773.1" y="205.6" width="25" height="4.6" fill="#66aa22"/>
<rect x="798.8" y="200.5" width="10" height="9.7" fill="#2fd038"/>
<rect x="798.8" y="204.3" width="10" height="1.1" fill="#1d7a22"/>
<rect x="797.6" y="198.4" width="1.4" height="11.6" fill="#122a40"/>
<!-- o-ring lines -->
<g fill="none" stroke="#ffe9c4" stroke-width="1.5" stroke-linecap="round">
<path d="M662.8 195 Q664.5 190.4 667.5 190.2 L677 190"/>
<path d="M689.5 190 L697.5 189.6 Q700.5 189 701.6 187"/>
<path d="M769.8 186.2 Q771.5 189.2 775 189.6 L782.5 190"/>
<path d="M800 190 L808.5 190.4 Q811.5 191.5 812.6 194.6"/>
</g>
<circle cx="701.4" cy="187.2" r="1.3" fill="#d8e27a"/>
<!-- silver -->
<rect x="711.2" y="198.6" width="50.2" height="14.9" fill="#c6ced4"/>
<rect x="711.2" y="211.4" width="50.2" height="2.1" fill="#aab2b6"/>
<rect x="716.6" y="199.4" width="9" height="8.6" fill="#b3bec8"/>
<rect x="717" y="199.6" width="1.6" height="8" fill="#93a2b0"/>
<rect x="723.6" y="199.6" width="1.6" height="8" fill="#93a2b0"/>
<rect x="717" y="203.2" width="8" height="1.3" fill="#93a2b0"/>
<rect x="746" y="199" width="10" height="13" fill="#d6dce0"/>
<!-- vanes -->
<rect x="654.0" y="225.4" width="4.3" height="70.4" fill="#fff"/>
<rect x="658.3" y="225.4" width="3.7" height="70.4" fill="#8c8a12"/>
<rect x="662.0" y="225.4" width="8.5" height="70.4" fill="#cfc80e"/>
<rect x="670.5" y="225.4" width="4.1" height="70.4" fill="#b9b02c"/>
<rect x="674.6" y="225.4" width="6.4" height="70.4" fill="#e0701c"/>
<rect x="681.0" y="225.4" width="4.6" height="70.4" fill="#fff"/>
<rect x="685.6" y="225.4" width="3.0" height="70.4" fill="#8c8a12"/>
<rect x="688.6" y="225.4" width="7.9" height="70.4" fill="#cfc80e"/>
<rect x="696.5" y="225.4" width="4.5" height="70.4" fill="#b9b02c"/>
<rect x="701.0" y="225.4" width="7.2" height="70.4" fill="#e0701c"/>
<rect x="708.2" y="225.4" width="6.8" height="70.4" fill="#fff"/>
<rect x="715.0" y="225.4" width="21.6" height="70.4" fill="#cfc80e"/>
<rect x="736.6" y="225.4" width="6.4" height="70.4" fill="#fff"/>
<rect x="743.0" y="225.4" width="11.2" height="70.4" fill="#e0701c"/>
<rect x="754.2" y="225.4" width="1.8" height="70.4" fill="#f6ecc8"/>
<rect x="756.0" y="225.4" width="5.0" height="70.4" fill="#8c8a12"/>
<rect x="761.0" y="225.4" width="8.6" height="70.4" fill="#cfc80e"/>
<rect x="769.6" y="225.4" width="6.4" height="70.4" fill="#c9cacf"/>
<rect x="776.0" y="225.4" width="6.6" height="70.4" fill="#e0701c"/>
<rect x="782.6" y="225.4" width="1.6" height="70.4" fill="#f3d9a6"/>
<rect x="784.2" y="225.4" width="5.4" height="70.4" fill="#8c8a12"/>
<rect x="789.6" y="225.4" width="8.4" height="70.4" fill="#cfc80e"/>
<rect x="798.0" y="225.4" width="7.0" height="70.4" fill="#c9cacf"/>
<rect x="805.0" y="225.4" width="6.4" height="70.4" fill="#e0701c"/>
<rect x="811.4" y="225.4" width="2.0" height="70.4" fill="#f3d9a6"/>
<rect x="813.4" y="225.4" width="6.0" height="70.4" fill="#8c8a12"/>
<rect x="819.4" y="225.4" width="8.6" height="70.4" fill="#cfc80e"/>
<rect x="828.0" y="225.4" width="9.0" height="70.4" fill="#fff"/>
<rect x="725" y="226" width="1.2" height="69" fill="#bdb60c"/>
<!-- feet -->
<path d="M592 269.5 Q592 268 594 268 L628 268 L628 293 L594 293 Q592 293 592 291Z" fill="#c2601b"/>
<rect x="592.5" y="268.4" width="17" height="10" fill="#cc6a22"/>
<rect x="621" y="281" width="7" height="12" fill="#a9531a"/>
<path d="M828 270.4 L864 270.4 Q866.2 270.4 866.2 273 L866.2 289 Q866.2 293 862 293 L828 293Z" fill="#de6f1d"/>
<rect x="828" y="270.6" width="7.6" height="22.4" fill="#98491a"/>
<!-- yellow plate -->
<rect x="605.8" y="292.6" width="25.4" height="5.4" fill="#cdd6d8"/>
<rect x="632" y="293" width="7" height="3" fill="#fbf3e0"/>
<path d="M599 301 Q599 296.8 603.5 296.8 L638 296.8 L638 295.8 L841.4 295.8 L841.4 308.9 L771.8 308.9 L771.8 352 Q771.8 358 766 358 L759.8 358 L759.8 313 Q759.8 311.2 758 311.2 L714 311.2 Q712 311.2 712 313 L712 358 L705.5 358 Q699.6 358 699.6 352 L699.6 308.9 L603.5 308.9 Q599 308.9 599 305Z" fill="#cdc50c"/>
<rect x="699.6" y="309" width="2" height="46" fill="#8f8a10"/>
<rect x="712" y="311.2" width="47.8" height="1.4" fill="#8f8a10"/>
<rect x="632" y="297.4" width="5.6" height="11.4" fill="#a39d0c"/>
<rect x="612" y="299" width="14" height="4" fill="#dcd630"/>
<rect x="606" y="299" width="1.4" height="9" fill="#aaa40c"/>
<rect x="747.8" y="312.6" width="5" height="45.6" fill="url(#rod)"/>
<rect x="716" y="357.6" width="42" height="1.7" fill="#b4b8ba"/>
</g>
</g>
<!-- label arrows -->
<g fill="none" stroke="#929292" stroke-width="2.9">
<path d="M593.7 128 L593.7 218.2 L626 218.2"/>
<path d="M737.1 102 L737.1 151.4"/>
<path d="M683.4 176 L683.4 151.4 L789.6 151.4 L789.6 176"/>
<path d="M620.4 375 L620.4 335.8 L693.6 335.8 L693.6 309"/>
</g>
<g fill="none" stroke="#c9b6a6" stroke-opacity="0.8" stroke-width="2.6">
<path d="M626 218.2 L689 218.2"/>
<path d="M683.4 176 L683.4 193"/>
<path d="M789.6 176 L789.6 193"/>
<path d="M693.6 309 L693.6 303"/>
</g>
<g fill="#b9b3ae" fill-opacity="0.92">
<path d="M696.5 218.2 L685 212.6 L688 218.2 L685 223.8Z"/>
<path d="M683.4 199.5 L677.6 187.5 L683.4 190.5 L689.2 187.5Z"/>
<path d="M789.6 199.5 L783.8 187.5 L789.6 190.5 L795.4 187.5Z"/>
<path d="M693.6 296.5 L688 308 L693.6 305 L699.2 308Z"/>
</g>
</svg>

<div class="t title" style="left:181.5px;">径向柔性</div>
<div class="t title" style="left:676.5px;">轴向柔性</div>

<div class="t lab" style="left:551.8px;top:73px;width:83px;">上涡旋盘<br>(定盘)</div>
<div class="t lab" style="left:695px;top:73px;width:83px;">浮动密封</div>
<div class="t lab" style="left:579.5px;top:383px;width:83px;">下涡旋盘<br>(动盘)</div>

<div class="box l navy" style="top:314px;"><span>确保涡旋盘始终接触</span></div>
<div class="box l green" style="top:400px;"><span>允许涡旋盘侧面分离</span></div>
<div class="box l sky" style="top:486px;"><span>杂质和液体可以通过</span></div>

<div class="box r navy" style="top:372px;height:85px;"><span style="top:20px;">顶端压力平均</span></div>
<div class="box r green" style="top:474px;height:85px;"><span style="top:20.5px;">浮动密封</span></div>

<svg style="position:absolute;left:0;top:0;" width="1040" height="582" viewBox="0 0 1040 582">
<polygon points="963.4,441.2 982.3,454.1 1005.3,454.5 1012.8,475.8 1031.2,489.4 1024.5,511.0 1031.2,532.6 1012.8,546.2 1005.3,567.5 982.3,567.9 963.4,580.8 944.5,567.9 921.5,567.5 914.0,546.2 895.6,532.6 902.3,511.0 895.6,489.4 914.0,475.8 921.5,454.5 944.5,454.1" fill="#fdc82e" stroke="#4a3c14" stroke-width="1.2" stroke-linejoin="miter"/>
<text x="961" y="524" text-anchor="middle" font-family="'Liberation Serif','Noto Serif CJK SC',serif" font-size="35" font-weight="500" fill="#6a4a12">专利</text>
</svg>
</div>
</body>
</html>
